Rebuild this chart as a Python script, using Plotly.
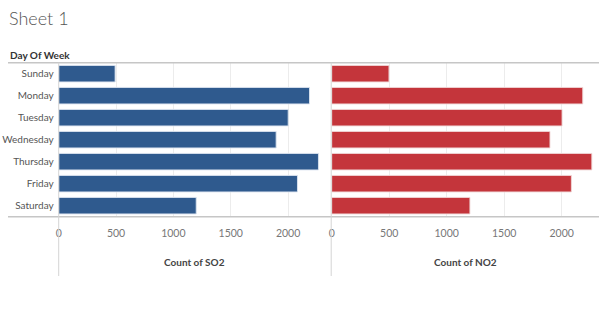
import plotly.graph_objects as go

days = ["Sunday", "Monday", "Tuesday", "Wednesday", "Thursday", "Friday", "Saturday"]
so2_counts = [492, 2187, 2001, 1896, 2265, 2082, 1199]
no2_counts = [498, 2183, 2003, 1898, 2262, 2084, 1202]
tick_vals = [0, 500, 1000, 1500, 2000]
tick_text = ["0", "500", "1000", "1500", "2000"]

W, H = 599, 331
FONT = "Liberation Sans Narrow, Lato, Liberation Sans, sans-serif"

def px(x):
    return x / W

def py(y):
    return 1 - y / H

plot_top, plot_bot = 62.7, 216.7
left_dom = [px(58.7), px(330.5)]
right_dom = [px(331.7), px(598.5)]

fig = go.Figure()
fig.add_trace(go.Bar(
    y=days, x=so2_counts, orientation="h", xaxis="x", yaxis="y",
    marker=dict(color="#2F5A8E", line=dict(color="rgba(220,228,240,0.9)", width=1)),
    width=0.75, showlegend=False,
))
fig.add_trace(go.Bar(
    y=days, x=no2_counts, orientation="h", xaxis="x2", yaxis="y2",
    marker=dict(color="#C4353B", line=dict(color="rgba(240,215,215,0.9)", width=1)),
    width=0.75, showlegend=False,
))

axis_common = dict(
    tickvals=tick_vals, ticktext=tick_text,
    showgrid=True, gridcolor="#ececec", gridwidth=1,
    zeroline=False, showline=False, automargin=False,
    tickfont=dict(family=FONT, size=10.5, color="#777777"),
    ticks="", ticklabelstandoff=9, fixedrange=True,
)

fig.update_layout(
    width=W, height=H,
    margin=dict(l=0, r=0, t=0, b=0, autoexpand=False),
    paper_bgcolor="white", plot_bgcolor="white",
    bargap=0.25,
    xaxis=dict(domain=left_dom, range=[0, 2370], anchor="y", **axis_common),
    xaxis2=dict(domain=right_dom, range=[0, 2320], anchor="y2", **axis_common),
    yaxis=dict(
        domain=[py(plot_bot), py(plot_top)], anchor="x", automargin=False,
        categoryorder="array", categoryarray=days, autorange="reversed",
        tickfont=dict(family=FONT, size=10, color="#555555"),
        ticks="", ticklabelstandoff=4, showgrid=False, showline=False, zeroline=False,
        fixedrange=True,
    ),
    yaxis2=dict(
        domain=[py(plot_bot), py(plot_top)], anchor="x2", automargin=False,
        categoryorder="array", categoryarray=days, autorange="reversed",
        showticklabels=False, showgrid=False, showline=False, zeroline=False,
        fixedrange=True,
    ),
)

line_col = "#c6c6c6"
shapes = [
    dict(type="line", xref="paper", yref="paper", x0=px(8), x1=1, y0=py(plot_top), y1=py(plot_top),
         line=dict(color=line_col, width=1.5)),
    dict(type="line", xref="paper", yref="paper", x0=px(8), x1=1, y0=py(plot_bot), y1=py(plot_bot),
         line=dict(color=line_col, width=1.5)),
    dict(type="line", xref="paper", yref="paper", x0=px(58.7), x1=px(58.7), y0=py(plot_top), y1=py(276),
         line=dict(color="#d4d4d4", width=1)),
    dict(type="line", xref="paper", yref="paper", x0=px(331.2), x1=px(331.2), y0=py(plot_top), y1=py(276),
         line=dict(color="#d4d4d4", width=1)),
]
fig.update_layout(shapes=shapes)

annotations = [
    dict(text="Sheet 1", xref="paper", yref="paper", x=px(7), y=py(18), xanchor="left", yanchor="middle",
         showarrow=False, font=dict(family=FONT, size=18, color="#555555", weight=300)),
    dict(text="<b>Day Of Week</b>", xref="paper", yref="paper", x=px(8), y=py(55), xanchor="left",
         yanchor="middle", showarrow=False, font=dict(family=FONT, size=10, color="#333333")),
    dict(text="<b>Count of SO2</b>", xref="paper", yref="paper", x=(left_dom[0] + left_dom[1]) / 2,
         y=py(262), xanchor="center", yanchor="middle", showarrow=False,
         font=dict(family=FONT, size=10, color="#444444")),
    dict(text="<b>Count of NO2</b>", xref="paper", yref="paper", x=(right_dom[0] + right_dom[1]) / 2,
         y=py(262), xanchor="center", yanchor="middle", showarrow=False,
         font=dict(family=FONT, size=10, color="#444444")),
]
fig.update_layout(annotations=annotations)

fig.write_html("out.html")
